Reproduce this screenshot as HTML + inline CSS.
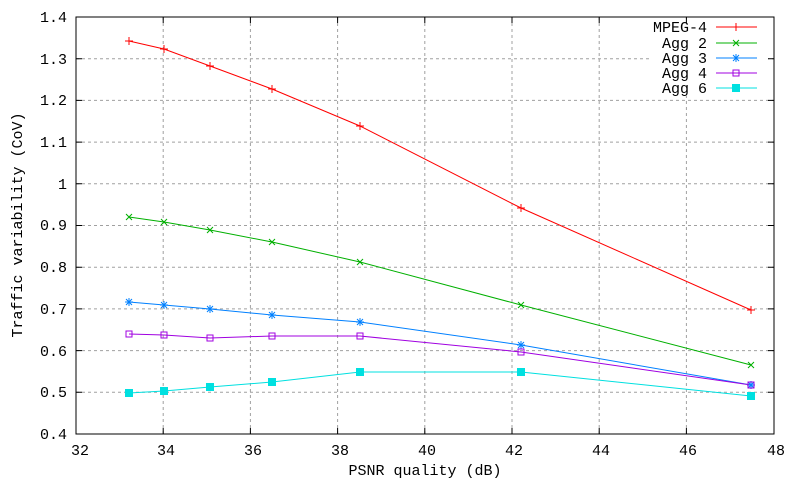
<!DOCTYPE html>
<html><head><style>body{margin:0;background:#fff}text{font-family:"Liberation Mono",monospace;font-size:15px;fill:#000}</style></head><body>
<svg width="800" height="480" xmlns="http://www.w3.org/2000/svg">
<g stroke="#a0a0a0" stroke-dasharray="3,3" stroke-width="1">
<line x1="76" x2="774" y1="58.7" y2="58.7"/><line x1="76" x2="774" y1="100.4" y2="100.4"/><line x1="76" x2="774" y1="142.1" y2="142.1"/><line x1="76" x2="774" y1="183.8" y2="183.8"/><line x1="76" x2="774" y1="225.5" y2="225.5"/><line x1="76" x2="774" y1="267.2" y2="267.2"/><line x1="76" x2="774" y1="308.9" y2="308.9"/><line x1="76" x2="774" y1="350.6" y2="350.6"/><line x1="76" x2="774" y1="392.3" y2="392.3"/>
<line y1="17" y2="434" x1="163.2" x2="163.2"/><line y1="17" y2="434" x1="250.4" x2="250.4"/><line y1="17" y2="434" x1="337.6" x2="337.6"/><line y1="17" y2="434" x1="424.8" x2="424.8"/><line y1="17" y2="434" x1="512" x2="512"/><line y1="17" y2="434" x1="599.2" x2="599.2"/><line y1="17" y2="434" x1="686.4" x2="686.4"/>
</g>
<rect x="650" y="19" width="118" height="77" fill="#fff"/>
<rect x="76" y="17" width="698" height="417" fill="none" stroke="#000" stroke-width="1"/>
<g fill="none" stroke-width="1">
<polyline stroke="#ff0000" points="129,41 164,49 210,66 272,89 360,126 521,208 751,310"/>
<polyline stroke="#00b000" points="129,217 164,222 210,230 272,242 360,262 521,305 751,365"/>
<polyline stroke="#0080ff" points="129,302 164,305 210,309 272,315 360,322 521,345 751,385"/>
<polyline stroke="#a000e0" points="129,334 164,335 210,338 272,336 360,336 521,352 751,385"/>
<polyline stroke="#00e0e0" points="129,393 164,391 210,387 272,382 360,372 521,372 751,396"/>
<line x1="716" x2="757" y1="27" y2="27" stroke="#ff0000"/>
<line x1="716" x2="757" y1="43" y2="43" stroke="#00b000"/>
<line x1="716" x2="757" y1="58" y2="58" stroke="#0080ff"/>
<line x1="716" x2="757" y1="73" y2="73" stroke="#a000e0"/>
<line x1="716" x2="757" y1="88" y2="88" stroke="#00e0e0"/>
</g>
<g stroke="#ff0000"><path d="M125 41h8M129 37v8M160 49h8M164 45v8M206 66h8M210 62v8M268 89h8M272 85v8M356 126h8M360 122v8M517 208h8M521 204v8M747 310h8M751 306v8M732 27h8M736 23v8"/></g>
<g stroke="#00b000"><path d="M126 214l6 6M132 214l-6 6M161 219l6 6M167 219l-6 6M207 227l6 6M213 227l-6 6M269 239l6 6M275 239l-6 6M357 259l6 6M363 259l-6 6M518 302l6 6M524 302l-6 6M748 362l6 6M754 362l-6 6M733 40l6 6M739 40l-6 6"/></g>
<g stroke="#0080ff"><path d="M125 302h8M129 298v8M126 299l6 6M132 299l-6 6M160 305h8M164 301v8M161 302l6 6M167 302l-6 6M206 309h8M210 305v8M207 306l6 6M213 306l-6 6M268 315h8M272 311v8M269 312l6 6M275 312l-6 6M356 322h8M360 318v8M357 319l6 6M363 319l-6 6M517 345h8M521 341v8M518 342l6 6M524 342l-6 6M747 385h8M751 381v8M748 382l6 6M754 382l-6 6M732 58h8M736 54v8M733 55l6 6M739 55l-6 6"/></g>
<g stroke="#a000e0" fill="none"><rect x="126" y="331" width="6" height="6"/><rect x="161" y="332" width="6" height="6"/><rect x="207" y="335" width="6" height="6"/><rect x="269" y="333" width="6" height="6"/><rect x="357" y="333" width="6" height="6"/><rect x="518" y="349" width="6" height="6"/><rect x="748" y="382" width="6" height="6"/><rect x="733" y="70" width="6" height="6"/></g>
<g fill="#00e0e0"><rect x="125" y="389" width="8" height="8"/><rect x="160" y="387" width="8" height="8"/><rect x="206" y="383" width="8" height="8"/><rect x="268" y="378" width="8" height="8"/><rect x="356" y="368" width="8" height="8"/><rect x="517" y="368" width="8" height="8"/><rect x="747" y="392" width="8" height="8"/><rect x="732" y="84" width="8" height="8"/></g>
<g stroke="#000"><path d="M76 58.7h6M768 58.7h6M76 100.4h6M768 100.4h6M76 142.1h6M768 142.1h6M76 183.8h6M768 183.8h6M76 225.5h6M768 225.5h6M76 267.2h6M768 267.2h6M76 308.9h6M768 308.9h6M76 350.6h6M768 350.6h6M76 392.3h6M768 392.3h6M163.2 434v-6M163.2 17v6M250.4 434v-6M250.4 17v6M337.6 434v-6M337.6 17v6M424.8 434v-6M424.8 17v6M512 434v-6M512 17v6M599.2 434v-6M599.2 17v6M686.4 434v-6M686.4 17v6"/></g>
<g text-anchor="end"><text x="67" y="22">1.4</text><text x="67" y="64">1.3</text><text x="67" y="105">1.2</text><text x="67" y="147">1.1</text><text x="67" y="189">1</text><text x="67" y="230">0.9</text><text x="67" y="272">0.8</text><text x="67" y="314">0.7</text><text x="67" y="356">0.6</text><text x="67" y="397">0.5</text><text x="67" y="439">0.4</text>
<text x="707" y="32">MPEG-4</text><text x="707" y="48">Agg 2</text><text x="707" y="63">Agg 3</text><text x="707" y="78">Agg 4</text><text x="707" y="93">Agg 6</text></g>
<g text-anchor="middle"><text x="80" y="455">32</text><text x="166" y="455">34</text><text x="253" y="455">36</text><text x="340" y="455">38</text><text x="427" y="455">40</text><text x="514" y="455">42</text><text x="601" y="455">44</text><text x="688" y="455">46</text><text x="776" y="455">48</text>
<text x="425" y="475">PSNR quality (dB)</text>
<text transform="translate(22,225) rotate(-90)">Traffic variability (CoV)</text></g>
</svg>
</body></html>
